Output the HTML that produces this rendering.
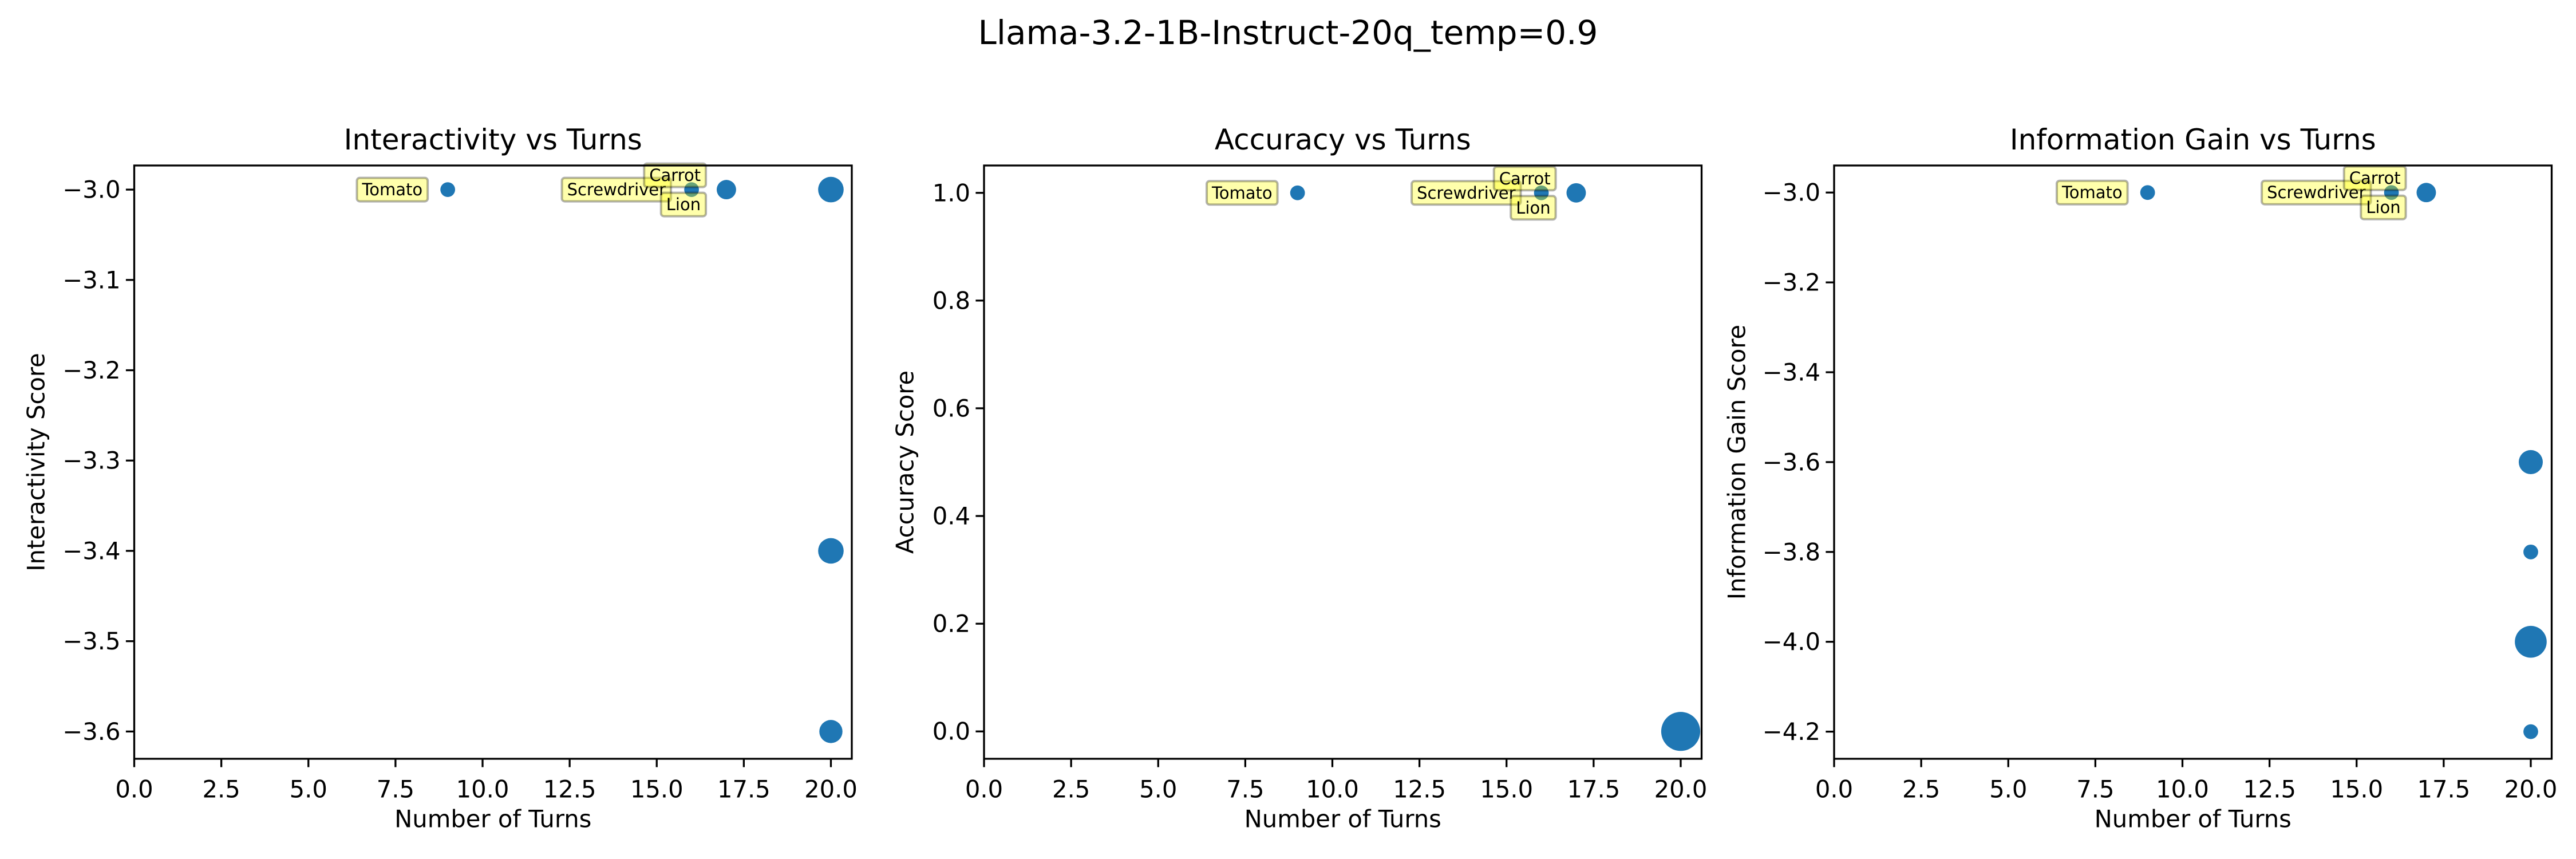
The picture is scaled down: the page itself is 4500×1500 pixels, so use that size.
<!DOCTYPE html>
<html><head><meta charset="utf-8"><style>
body{margin:0;background:#fff}
svg{display:block;font-family:"DejaVu Sans","Liberation Sans",sans-serif}
</style></head><body>
<svg id="fig" width="4500" height="1500" viewBox="0 0 4500 1500" xmlns="http://www.w3.org/2000/svg">
<rect width="4500" height="1500" fill="#fff"/>
<text x="2250" y="57" font-size="58" text-anchor="middle" dominant-baseline="central">Llama-3.2-1B-Instruct-20q_temp=0.9</text>
</svg>
<script>
const xTicks = [0, 2.5, 5, 7.5, 10, 12.5, 15, 17.5, 20];
const xTickLabels = ["0.0","2.5","5.0","7.5","10.0","12.5","15.0","17.5","20.0"];
const p1Turns = [9, 16, 17, 20, 20, 20];
const p1Values = [-3.0, -3.0, -3.0, -3.0, -3.4, -3.6];
const p1Sizes = [30, 30, 52, 90, 90, 74];
const p1YTicks = [-3.0, -3.1, -3.2, -3.3, -3.4, -3.5, -3.6];
const p1YTickLabels = ["−3.0","−3.1","−3.2","−3.3","−3.4","−3.5","−3.6"];
const p2Turns = [9, 16, 17, 20];
const p2Values = [1.0, 1.0, 1.0, 0.0];
const p2Sizes = [30, 30, 52, 210];
const p2YTicks = [0.0, 0.2, 0.4, 0.6, 0.8, 1.0];
const p2YTickLabels = ["0.0","0.2","0.4","0.6","0.8","1.0"];
const p3Turns = [9, 16, 17, 20, 20, 20, 20];
const p3Values = [-3.0, -3.0, -3.0, -3.6, -3.8, -4.0, -4.2];
const p3Sizes = [30, 30, 52, 80, 30, 140, 30];
const p3YTicks = [-3.0, -3.2, -3.4, -3.6, -3.8, -4.0, -4.2];
const p3YTickLabels = ["−3.0","−3.2","−3.4","−3.6","−3.8","−4.0","−4.2"];
const annNames = ["Tomato", "Screwdriver", "Carrot", "Lion"];
const annTurns = [9, 16, 16, 16];

const NS = "http://www.w3.org/2000/svg";
const svg = document.getElementById('fig');
function mk(tag, attrs, parent){const e=document.createElementNS(NS,tag);for(const k in attrs)e.setAttribute(k,attrs[k]);(parent||svg).appendChild(e);return e;}

const panels = [
 {left:234.5, title:"Interactivity vs Turns", ylab:"Interactivity Score", ylim:[-3.6302,-2.9733], t:p1Turns, v:p1Values, s:p1Sizes, yt:p1YTicks, ytl:p1YTickLabels, ann:true, annY:-3.0, ylx:63},
 {left:1719, title:"Accuracy vs Turns", ylab:"Accuracy Score", ylim:[-0.0508,1.0508], t:p2Turns, v:p2Values, s:p2Sizes, yt:p2YTicks, ytl:p2YTickLabels, ann:true, annY:1.0, ylx:1581},
 {left:3204, title:"Information Gain vs Turns", ylab:"Information Gain Score", ylim:[-4.2604,-2.9398], t:p3Turns, v:p3Values, s:p3Sizes, yt:p3YTicks, ytl:p3YTickLabels, ann:true, annY:-3.0, ylx:3034}
];
const W=1253.5, TOP=289, BOT=1325, XMAX=20.6;
// label offsets (styling): dx of box right edge, dy of box center
const annOff = [[-35,0],[-36,0],[25,-25],[25,26]];

panels.forEach((p,pi)=>{
  const g = mk('g',{});
  
  
  const X = x => p.left + x/XMAX*W;
  const Y = y => BOT - (y-p.ylim[0])/(p.ylim[1]-p.ylim[0])*(BOT-TOP);
  // points
  p.t.forEach((tv,i)=>{
    const r = Math.sqrt(p.s[i]/Math.PI)*300/72;
    const c = mk('circle',{cx:X(tv),cy:Y(p.v[i]),r:r,fill:'#1f77b4'},g);
    
    
  });
  // annotations
  if(p.ann){
    annNames.forEach((nm,i)=>{
      const rx = X(annTurns[i]) + annOff[i][0];
      const cy = Y(p.annY) + annOff[i][1];
      const ag = mk('g',{},g);
      
      
      const tx = mk('text',{x:rx-9,y:cy,'font-size':29,'text-anchor':'end','dominant-baseline':'central'},ag);
      tx.textContent = nm;
      const w = tx.getComputedTextLength()+18;
      const b = mk('rect',{x:rx-w,y:cy-20.5,width:w,height:41,rx:5,fill:'rgba(255,255,0,0.33)',stroke:'rgba(0,0,0,0.3)','stroke-width':4},ag);
      ag.insertBefore(b,tx);
    });
  }
  // spines
  const sp = mk('rect',{x:p.left,y:TOP,width:W,height:BOT-TOP,fill:'none',stroke:'#000','stroke-width':3.3},g);
  
  
  // x ticks
  xTicks.forEach((xv,i)=>{
    mk('line',{x1:X(xv),x2:X(xv),y1:BOT,y2:BOT+14.6,stroke:'#000','stroke-width':3.3},g);
    const t = mk('text',{x:X(xv),y:BOT+53,'font-size':41.7,'text-anchor':'middle','dominant-baseline':'central'},g);
    
    
    t.textContent = xTickLabels[i];
  });
  p.yt.forEach((yv,i)=>{
    mk('line',{x1:p.left-14.6,x2:p.left,y1:Y(yv),y2:Y(yv),stroke:'#000','stroke-width':3.3},g);
    const t = mk('text',{x:p.left-24,y:Y(yv),'font-size':41.7,'text-anchor':'end','dominant-baseline':'central'},g);
    
    
    t.textContent = p.ytl[i];
  });
  const tt = mk('text',{x:p.left+W/2,y:244,'font-size':50,'text-anchor':'middle','dominant-baseline':'central'},g);
  
  
  tt.textContent = p.title;
  const xl = mk('text',{x:p.left+W/2,y:1430,'font-size':41.7,'text-anchor':'middle','dominant-baseline':'central'},g);
  
  
  xl.textContent = "Number of Turns";
  const yl = mk('text',{x:p.ylx,y:(TOP+BOT)/2,'font-size':41.7,'text-anchor':'middle','dominant-baseline':'central',transform:`rotate(-90 ${p.ylx} ${(TOP+BOT)/2})`},g);
  
  
  yl.textContent = p.ylab;
});
</script>
</body></html>
